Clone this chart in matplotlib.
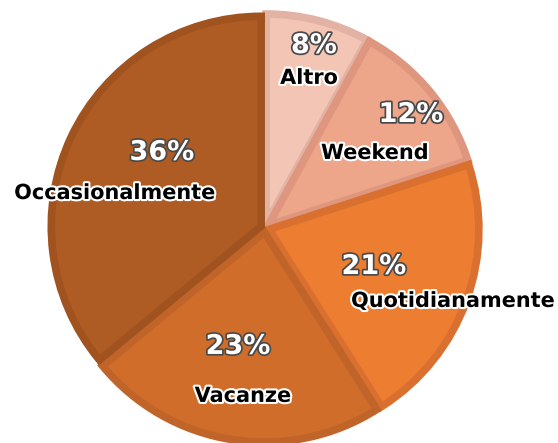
import matplotlib
matplotlib.use("Agg")
import matplotlib.pyplot as plt
import matplotlib.patheffects as pe

# dati
categorie = ["Altro", "Weekend", "Quotidianamente", "Vacanze", "Occasionalmente"]
valori = [8, 12, 21, 23, 36]

colori = ["#F3C5B5", "#EEA68B", "#ED7D31", "#D06D2B", "#AF5B24"]
bordi = ["#E2B2A4", "#DE977E", "#D97030", "#C1642A", "#A1531F"]

# posizioni dei testi (in unita' di raggio, rispetto al centro)
pos_pct = [(0.231, 0.858), (0.689, 0.533), (0.514, -0.184), (-0.127, -0.561), (-0.486, 0.354)]
pos_lab = [(0.208, 0.708), (0.519, 0.354), (0.887, -0.344), (-0.104, -0.792), (-0.708, 0.165)]

fig = plt.figure(figsize=(5.58, 4.43), dpi=100)
ax = fig.add_axes([0, 0, 1, 1])

wedges, _ = ax.pie(valori, colors=colori, startangle=90, counterclock=False,
                   explode=[0.02] * len(valori), radius=0.99,
                   wedgeprops=dict(linewidth=5.5))
for w, b in zip(wedges, bordi):
    w.set_edgecolor(b)

for i in range(len(valori)):
    x, y = pos_pct[i]
    ax.text(x, y, str(valori[i]) + "%", ha="center", va="center", fontsize=19.5,
            fontweight="bold", family="DejaVu Sans", color="white",
            path_effects=[pe.withStroke(linewidth=2.5, foreground="#4a4a4a")])
    x, y = pos_lab[i]
    ax.text(x, y, categorie[i], ha="center", va="center", fontsize=15,
            fontweight="bold", family="DejaVu Sans", color="black",
            path_effects=[pe.withStroke(linewidth=3, foreground="white")])

ax.set_xlim(-265 / 212, 293 / 212)
ax.set_ylim(-215 / 212, 228 / 212)
ax.set_aspect("equal")
ax.axis("off")

plt.savefig("out.png", dpi=100)
plt.close()
